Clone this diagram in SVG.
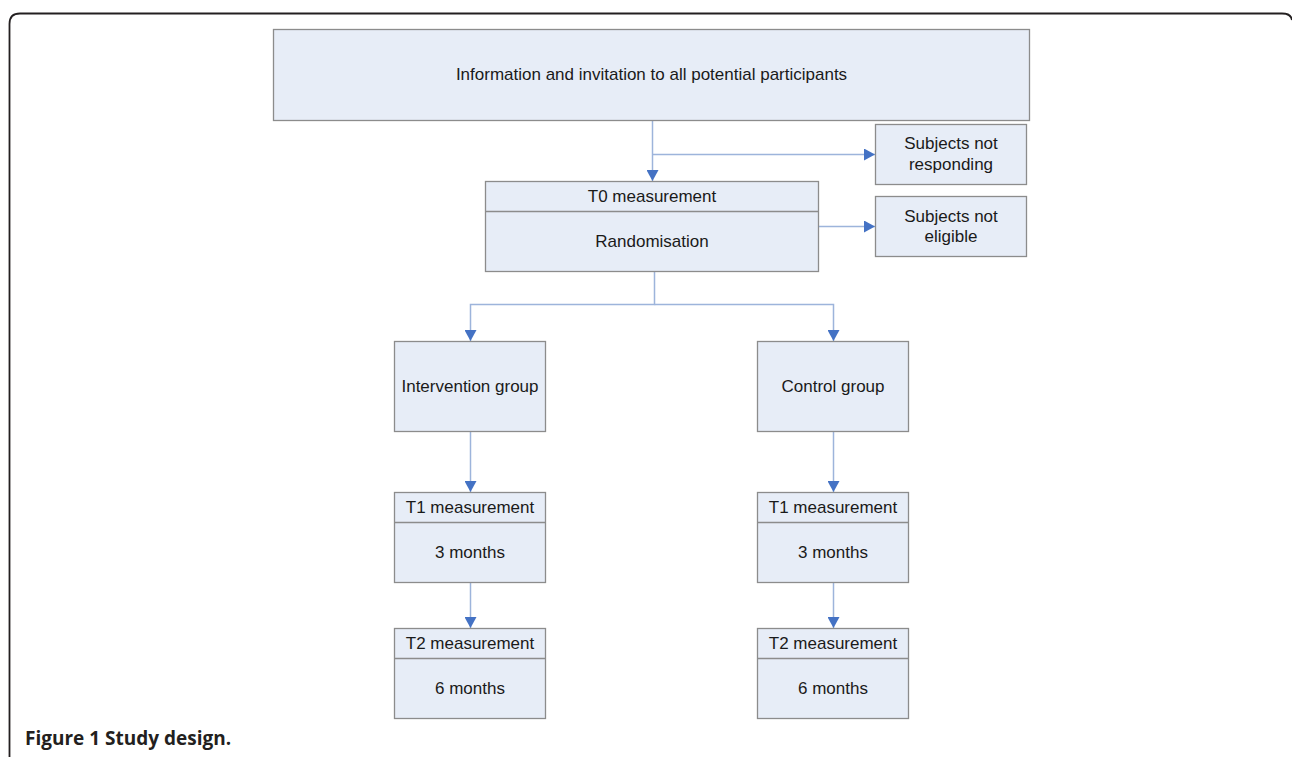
<svg xmlns="http://www.w3.org/2000/svg" width="1292" height="757" viewBox="0 0 1292 757">
<defs>
<style>
.box{fill:#e7edf7;stroke:#8c8c8c;stroke-width:1.3}
.div{stroke:#8c8c8c;stroke-width:1.3}
.t{font-family:"Liberation Sans",Arial,sans-serif;font-size:17px;fill:#1a1a1a;text-anchor:middle}
.c{fill:none;stroke:#9db4db;stroke-width:1.5}
.cap{font-family:"Open Sans","Liberation Sans",sans-serif;font-weight:bold;font-size:19px;fill:#231f20}
</style>
<marker id="ah" viewBox="0 0 10 10" refX="10" refY="5" markerWidth="11" markerHeight="12" markerUnits="userSpaceOnUse" orient="auto" preserveAspectRatio="none">
<path d="M0,0 L10,5 L0,10 Z" fill="#4472c4"/>
</marker>
</defs>
<rect width="1292" height="757" fill="#ffffff"/>
<path d="M9.5,757 L9.5,24 Q9.5,13.5 20,13.5 L1282,13.5 Q1291,13.5 1292,20" fill="none" stroke="#231f20" stroke-width="1.8"/>

<g id="connectors">
<path class="c" d="M652.5,121 V181" marker-end="url(#ah)"/>
<path class="c" d="M652.5,154.5 H875" marker-end="url(#ah)"/>
<path class="c" d="M818,226.5 H875" marker-end="url(#ah)"/>
<path class="c" d="M654.5,271 V304.5 H470.5 V341" marker-end="url(#ah)"/>
<path class="c" d="M654.5,304.5 H833.5 V341" marker-end="url(#ah)"/>
<path class="c" d="M470.5,432 V492" marker-end="url(#ah)"/>
<path class="c" d="M833.5,432 V492" marker-end="url(#ah)"/>
<path class="c" d="M470.5,583 V628" marker-end="url(#ah)"/>
<path class="c" d="M833.5,583 V628" marker-end="url(#ah)"/>
</g>

<g id="info">
<rect class="box" x="273.5" y="29.5" width="756" height="91"/>
<text class="t" x="651.5" y="80">Information and invitation to all potential participants</text>
</g>
<g id="not-responding">
<rect class="box" x="875.5" y="124.5" width="151" height="60"/>
<text class="t" x="951" y="149">Subjects not</text>
<text class="t" x="951" y="169.5">responding</text>
</g>
<g id="not-eligible">
<rect class="box" x="875.5" y="196.5" width="151" height="60"/>
<text class="t" x="951" y="221.5">Subjects not</text>
<text class="t" x="951" y="242">eligible</text>
</g>
<g id="t0">
<rect class="box" x="485.5" y="181.5" width="333" height="90"/>
<line class="div" x1="485.5" y1="211.5" x2="818.5" y2="211.5"/>
<text class="t" x="652" y="202">T0 measurement</text>
<text class="t" x="652" y="247">Randomisation</text>
</g>
<g id="intervention">
<rect class="box" x="394.5" y="341.5" width="151" height="90"/>
<text class="t" x="470" y="392">Intervention group</text>
</g>
<g id="control">
<rect class="box" x="757.5" y="341.5" width="151" height="90"/>
<text class="t" x="833" y="392">Control group</text>
</g>
<g id="t1-left">
<rect class="box" x="394.5" y="492.5" width="151" height="90"/>
<line class="div" x1="394.5" y1="522.5" x2="545.5" y2="522.5"/>
<text class="t" x="470" y="513">T1 measurement</text>
<text class="t" x="470" y="558">3 months</text>
</g>
<g id="t1-right">
<rect class="box" x="757.5" y="492.5" width="151" height="90"/>
<line class="div" x1="757.5" y1="522.5" x2="908.5" y2="522.5"/>
<text class="t" x="833" y="513">T1 measurement</text>
<text class="t" x="833" y="558">3 months</text>
</g>
<g id="t2-left">
<rect class="box" x="394.5" y="628.5" width="151" height="90"/>
<line class="div" x1="394.5" y1="658.5" x2="545.5" y2="658.5"/>
<text class="t" x="470" y="649">T2 measurement</text>
<text class="t" x="470" y="694">6 months</text>
</g>
<g id="t2-right">
<rect class="box" x="757.5" y="628.5" width="151" height="90"/>
<line class="div" x1="757.5" y1="658.5" x2="908.5" y2="658.5"/>
<text class="t" x="833" y="649">T2 measurement</text>
<text class="t" x="833" y="694">6 months</text>
</g>

<text class="cap" x="25" y="745">Figure 1 Study design.</text>
</svg>
